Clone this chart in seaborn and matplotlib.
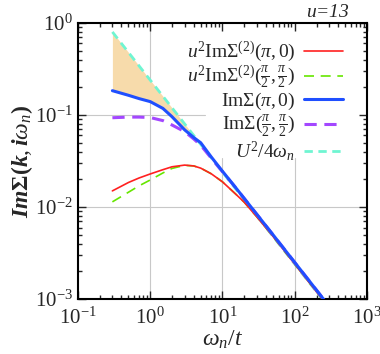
import numpy as np
import pandas as pd
import seaborn as sns
import matplotlib
matplotlib.use("Agg")
import matplotlib.pyplot as plt
from matplotlib.ticker import LogLocator, NullFormatter

# frequencies omega_n / t
omega = [0.3, 0.5, 0.7, 1.0, 1.5, 2.0, 3.0, 4.0, 5.0, 7.0, 10.0, 15.0, 20.0,
         30.0, 50.0, 100.0, 200.0, 300.0]

# values
red_pi0 = [0.0150, 0.0185, 0.0207, 0.0229, 0.0255, 0.0274, 0.0286, 0.0280,
           0.0265, 0.0230, 0.0188, 0.0140, 0.0113, 0.0078, 0.0048,
           0.0024, 0.0012, 0.00080]
green_pi2 = [0.0114, 0.0145, 0.0170, 0.0197, 0.0235, 0.0263, 0.0284, 0.0280,
             0.0265, 0.0230, 0.0188, 0.0140, 0.0113, 0.0078, 0.0048,
             0.0024, 0.0012, 0.00080]
blue_pi0 = [0.184, 0.164, 0.151, 0.140, 0.118, 0.096, 0.069, 0.057, 0.050,
            0.035, 0.0245, 0.0165, 0.0124, 0.0083, 0.0050, 0.0025,
            0.00125, 0.00083]
purple_pi2 = [0.0935, 0.0950, 0.0950, 0.0940, 0.0870, 0.0780, 0.0660,
              0.0550, 0.0470, 0.0340, 0.0242, 0.0165, 0.0124, 0.0083,
              0.0050, 0.0025, 0.00125, 0.00083]
cyan_u2 = [0.80, 0.48, 0.343, 0.240, 0.160, 0.120, 0.080, 0.060, 0.048,
           0.0343, 0.024, 0.016, 0.012, 0.008, 0.0048, 0.0024, 0.0012,
           0.0008]

labels = [r'$u^2\mathrm{Im}\Sigma^{(2)}(\pi,0)$',
          r'$u^2\mathrm{Im}\Sigma^{(2)}(\frac{\pi}{2},\frac{\pi}{2})$',
          r'$\mathrm{Im}\Sigma(\pi,0)$',
          r'$\mathrm{Im}\Sigma(\frac{\pi}{2},\frac{\pi}{2})$',
          r'$U^2/4\omega_n$']

sns.set_style("ticks")
plt.rcParams['font.family'] = ['Liberation Serif', 'DejaVu Serif']
plt.rcParams['mathtext.fontset'] = 'custom'
plt.rcParams['mathtext.rm'] = 'Liberation Serif'
plt.rcParams['mathtext.it'] = 'Liberation Serif:italic'
plt.rcParams['mathtext.bf'] = 'Liberation Serif:bold'
plt.rcParams['mathtext.bfit'] = 'Liberation Serif:italic:bold'
plt.rcParams['mathtext.default'] = 'it'

df = pd.DataFrame({'omega': omega, 'red': red_pi0, 'green': green_pi2,
                   'blue': blue_pi0, 'purple': purple_pi2, 'cyan': cyan_u2})

fig = plt.figure(figsize=(3.8, 3.54), dpi=100)
ax = fig.add_axes([0.205, 0.155, 0.761, 0.78])

# shaded band between ImSigma(pi,0) and U^2/4w
sub = df[df['omega'] <= 5.0]
ax.fill_between(sub['omega'], sub['blue'], sub['cyan'],
                where=sub['cyan'] >= sub['blue'], interpolate=True,
                color='#f7dbab', lw=0, zorder=1)

# grid lines (partly hidden behind the key in the original)
gkw = dict(color='#c8c8c8', lw=0.8, zorder=0)
ax.axvline(1, **gkw)
ax.axvline(10, ymax=0.51, **gkw)
ax.axvline(100, ymax=0.51, **gkw)
ax.axhline(0.1, xmax=0.44, **gkw)
ax.axhline(0.01, **gkw)

sns.lineplot(data=df, x='omega', y='cyan', ax=ax, color='#6ff5d2', lw=2.0,
             linestyle=(0, (3, 2)), label=labels[4], zorder=2)
sns.lineplot(data=df, x='omega', y='green', ax=ax, color='#66e600', lw=1.2,
             linestyle=(0, (6, 4)), label=labels[1], zorder=3)
sns.lineplot(data=df, x='omega', y='red', ax=ax, color='#ff2020', lw=1.2,
             label=labels[0], zorder=4)
sns.lineplot(data=df, x='omega', y='purple', ax=ax, color='#a347ff', lw=2.2,
             linestyle=(0, (4, 2.5)), label=labels[3], zorder=5)
sns.lineplot(data=df, x='omega', y='blue', ax=ax, color='#1f4fff', lw=2.2,
             label=labels[2], zorder=6)

ax.set_xscale('log')
ax.set_yscale('log')
ax.set_xlim(0.1, 1000)
ax.set_ylim(1e-3, 1)

ax.xaxis.set_major_locator(LogLocator(base=10, numticks=10))
ax.yaxis.set_major_locator(LogLocator(base=10, numticks=10))
ax.xaxis.set_minor_locator(LogLocator(base=10, subs=np.arange(2, 10), numticks=20))
ax.yaxis.set_minor_locator(LogLocator(base=10, subs=np.arange(2, 10), numticks=20))
ax.xaxis.set_minor_formatter(NullFormatter())
ax.yaxis.set_minor_formatter(NullFormatter())
ax.tick_params(which='both', direction='in', top=True, right=True,
               labelsize=15, width=1)
ax.tick_params(axis='x', pad=6)
ax.tick_params(which='major', length=6)
ax.tick_params(which='minor', length=3)
for s in ax.spines.values():
    s.set_linewidth(1.5)
    s.set_color('black')

ax.set_xlabel(r'$\omega_n/t$', fontsize=17, labelpad=0)
ax.set_ylabel(r'$\boldsymbol{Im\Sigma(k,i\omega_n)}$', fontsize=17, labelpad=0)

handles, labs = ax.get_legend_handles_labels()
order = [labs.index(l) for l in labels]
leg = ax.legend([handles[i] for i in order], [labs[i] for i in order],
                loc='upper right', frameon=False, markerfirst=False,
                fontsize=14, handlelength=2.0, labelspacing=0.0,
                borderpad=0.0, handletextpad=0.45,
                bbox_to_anchor=(0.95, 0.975))
leg.set_zorder(10)

fig.text(0.92, 0.965, r'$u$=13', fontsize=14, ha='right', va='center',
         style='italic')

fig.savefig('out.png', dpi=100)
